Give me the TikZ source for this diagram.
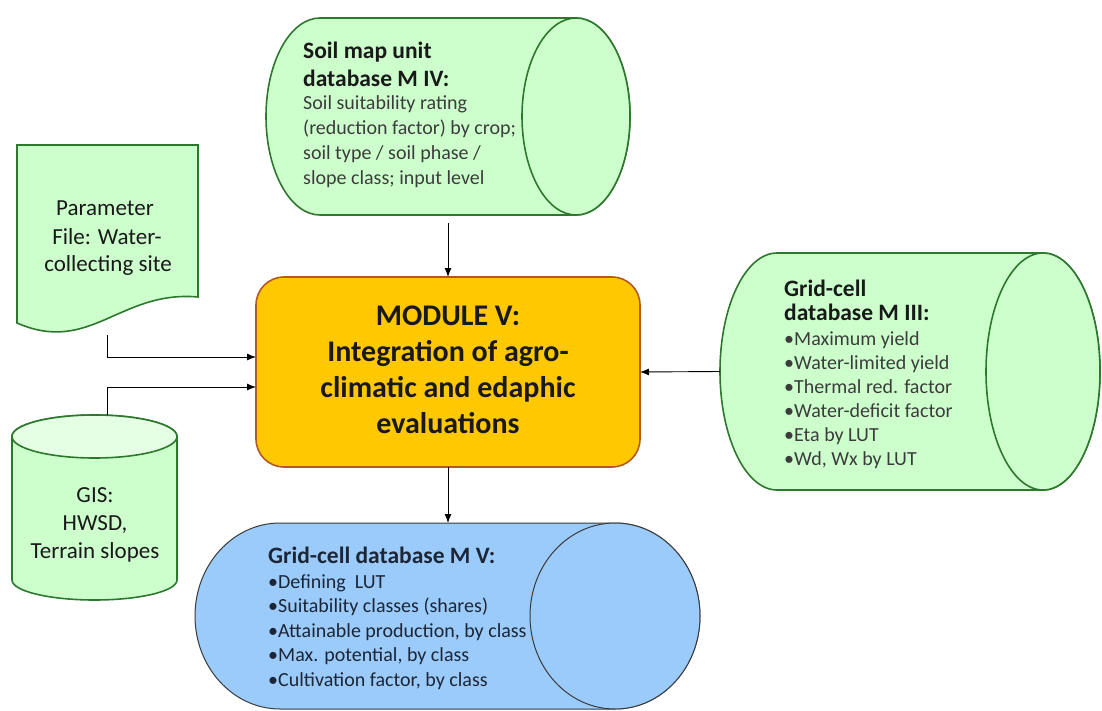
\documentclass[tikz,border=0pt]{standalone}
\usepackage{fontspec}
\setmainfont{Carlito}
\usetikzlibrary{arrows.meta}
\definecolor{gfill}{HTML}{CCFFCC}
\definecolor{gtop}{HTML}{E4FFE4}
\definecolor{gdraw}{RGB}{46,120,46}
\definecolor{bfill}{HTML}{9BCBFA}
\definecolor{bdraw}{HTML}{3A3A3A}
\definecolor{gold}{HTML}{FFC800}
\definecolor{golddraw}{RGB}{180,90,30}
\definecolor{tgray}{HTML}{3C3C3C}
\definecolor{tnavy}{HTML}{1C2636}
\begin{document}
\begin{tikzpicture}[x=1pt,y=1pt,
  db/.style={fill=gfill, draw=gdraw, line width=1.6pt},
  bdb/.style={fill=bfill, draw=bdraw, line width=1pt},
  shapebox/.style={draw=none, fill=none, inner sep=0, outer sep=0},
  modbox/.style={fill=gold, draw=golddraw, line width=1.6pt, rounded corners=28pt, inner sep=0, outer sep=0},
  arr/.style={-{Latex[length=9pt,width=7pt]}, line width=0.9pt, black},
  hd/.style={font=\bfseries\fontsize{23.5}{28}\selectfont, anchor=base west, inner sep=0, text=black!90},
  bd/.style={font=\fontsize{20}{24}\selectfont, anchor=base west, inner sep=0, text=tgray},
  ctxt/.style={font=\fontsize{23}{28}\selectfont, anchor=base, inner sep=0, text=black!90},
  mtxt/.style={font=\bfseries\fontsize{30}{36}\selectfont, anchor=base, inner sep=0, text=black!90}
]
\useasboundingbox (0,0) rectangle (1102,-711);

% ---------- Soil map unit database (top) ----------
\path[db] (576,-18) -- (320,-18) arc[start angle=90,end angle=270,x radius=54,y radius=98.5]
  -- (576,-215) arc[start angle=-90,end angle=90,x radius=54,y radius=98.5] -- cycle;
\path[db] (576,-116.5) ellipse[x radius=54,y radius=98.5];
\node[shapebox, minimum width=364pt, minimum height=197pt] (soil) at (448,-116.5) {};
\node[hd] (sh1) at (303,-58.3) {Soil map unit};
\node[hd] (sh2) at (303,-86.7) {database M IV:};
\foreach \t [count=\i] in {{Soil suitability rating},{(reduction factor) by crop;},{soil type / soil phase /},{slope class; input level}}
  \node[bd] (sb\i) at (303,{-110-24.7*(\i-1)}) {\t};

% ---------- Parameter file (document) ----------
\path[db] (17,-145) -- (198,-145) -- (198,-297)
  .. controls (120,-290) and (90,-355) .. (17,-323) -- cycle;
\node[shapebox, minimum width=181pt, minimum height=190pt] (param) at (107.5,-240) {};
\node[ctxt] (p1) at (105,-216) {Parameter};
\node[ctxt] (p2) at (107,-244) {File: Water-};
\node[ctxt] (p3) at (108,-272) {collecting site};

% ---------- GIS (vertical cylinder) ----------
\path[db] (12,-436.5) -- (12,-580) arc[start angle=180,end angle=360,x radius=82.5,y radius=20]
  -- (177,-436.5) arc[start angle=0,end angle=180,x radius=82.5,y radius=21.5] -- cycle;
\path[db, fill=gtop] (94.5,-436.5) ellipse[x radius=82.5,y radius=21.5];
\node[shapebox, minimum width=165pt, minimum height=185pt] (gis) at (94.5,-507.5) {};
\node[ctxt] (g1) at (95,-502) {GIS:};
\node[ctxt] (g2) at (95,-530) {HWSD,};
\node[ctxt] (g3) at (95,-558) {Terrain slopes};

% ---------- Module V ----------
\node[modbox, minimum width=384pt, minimum height=190pt] (mod) at (448,-372) {};
\node[mtxt] (m1) at (448,-325) {MODULE V:};
\node[mtxt] (m2) at (448,-361) {Integration of agro-};
\node[mtxt] (m3) at (448,-397) {climatic and edaphic};
\node[mtxt] (m4) at (448,-433) {evaluations};

% ---------- Grid-cell database M III (right) ----------
\path[db] (1043,-253) -- (777,-253) arc[start angle=90,end angle=270,x radius=57,y radius=118.5]
  -- (1043,-490) arc[start angle=-90,end angle=90,x radius=57,y radius=118.5] -- cycle;
\path[db] (1043,-371.5) ellipse[x radius=57,y radius=118.5];
\node[shapebox, minimum width=380pt, minimum height=237pt] (grid3) at (910,-371.5) {};
\node[hd] (rh1) at (784,-296) {Grid-cell};
\node[hd] (rh2) at (784,-320) {database M III:};
\foreach \t [count=\i] in {{Maximum yield},{Water-limited yield},{Thermal red. factor},{Water-deficit factor},{Eta by LUT},{Wd, Wx by LUT}}
  \node[bd] (rb\i) at (784,{-345-24*(\i-1)}) {•\t};

% ---------- Grid-cell database M V (bottom) ----------
\path[bdb] (615,-523) -- (280,-523) arc[start angle=90,end angle=270,x radius=85,y radius=93]
  -- (615,-709) arc[start angle=-90,end angle=90,x radius=85,y radius=93] -- cycle;
\path[bdb] (615,-616) ellipse[x radius=85,y radius=93];
\node[shapebox, minimum width=505pt, minimum height=186pt] (grid5) at (447.5,-616) {};
\node[hd, text=tnavy] (bh1) at (268,-563) {Grid-cell database M V:};
\foreach \t [count=\i] in {{Defining\ \ LUT},{Suitability classes (shares)},{Attainable production, by class},{Max. potential, by class},{Cultivation factor, by class}}
  \node[bd, text=tnavy] (bb\i) at (268,{-588-24.5*(\i-1)}) {•\t};

% ---------- Connectors ----------
\draw[arr] ([yshift=-8pt]soil.south) -- (mod.north);
\draw[arr] (grid3.west) -- (mod.east);
\draw[arr] (mod.south) -- (mod.south |- grid5.north);
\draw[arr] (param.south) |- ([yshift=15pt]mod.west);
\draw[arr] ([xshift=12.5pt]gis.north) |- ([yshift=-15pt]mod.west);
\end{tikzpicture}
\end{document}
